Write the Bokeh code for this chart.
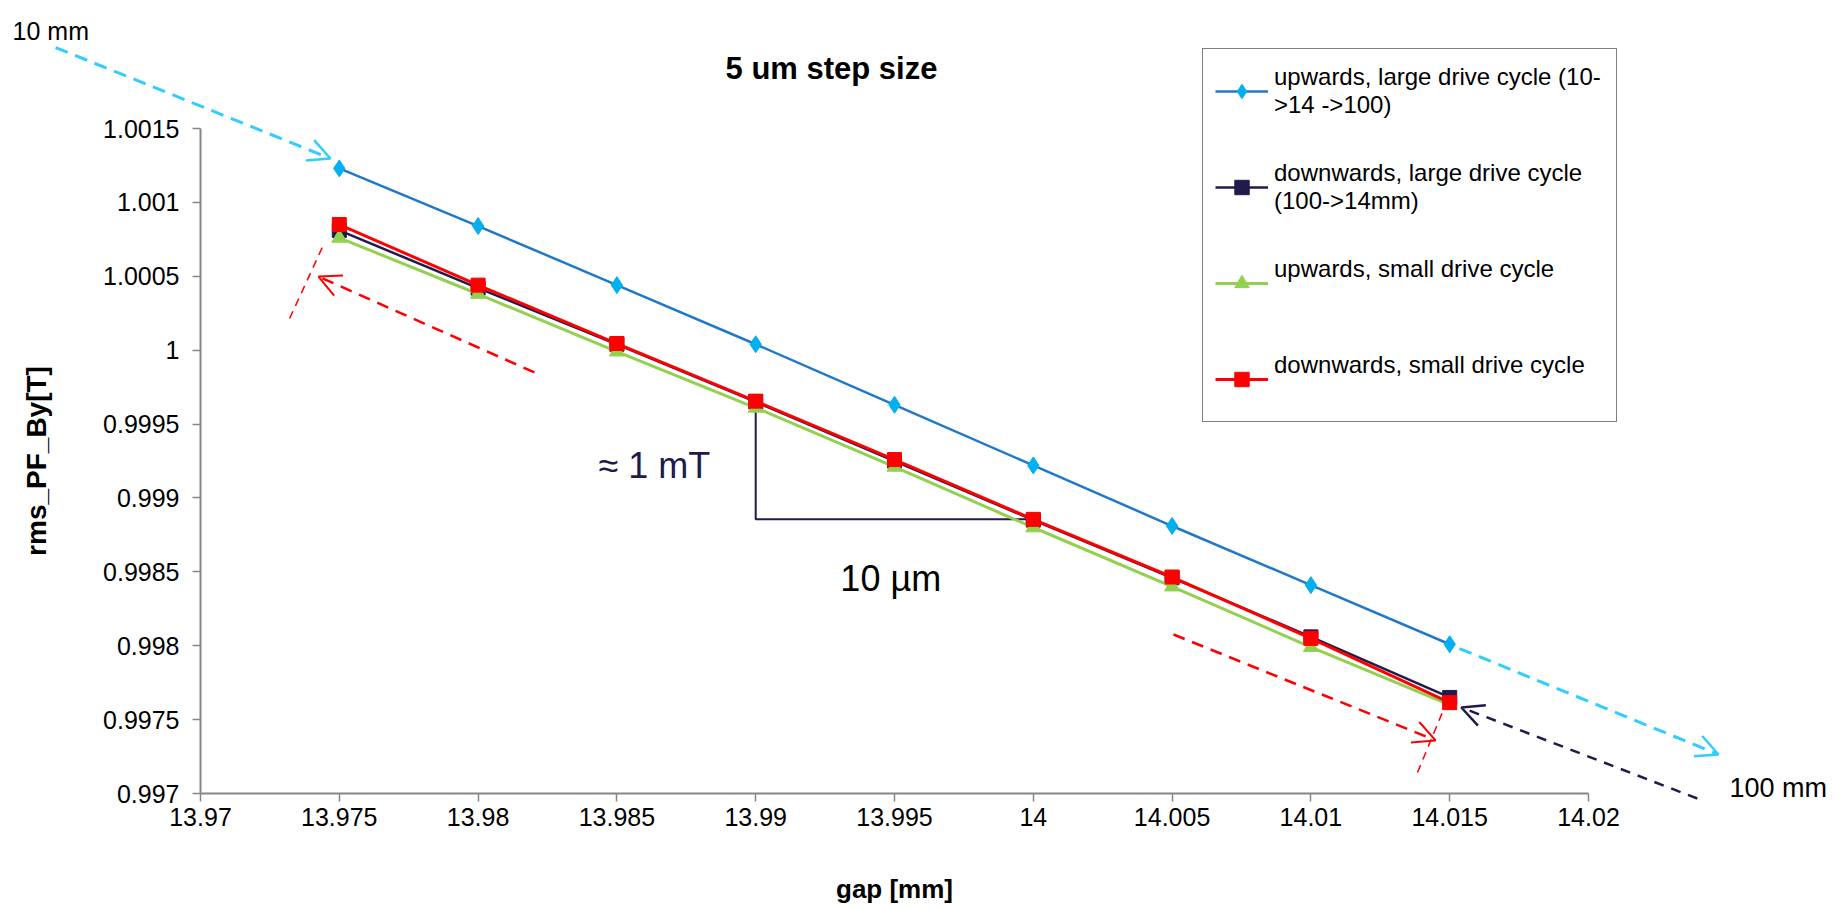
from bokeh.plotting import figure
from bokeh.models import (Range1d, FixedTicker, Legend, LegendItem, Arrow,
                          OpenHead, Label, LinearAxis)
from bokeh.embed import file_html
from bokeh.resources import INLINE

# ---------------- data ----------------
gap = [13.975, 13.98, 13.985, 13.99, 13.995, 14, 14.005, 14.01, 14.015]
up_large = [1.00123, 1.00084, 1.00044, 1.00004, 0.99963, 0.99922, 0.99881, 0.99841, 0.99801]
down_large = [1.00081, 1.00042, 1.00004, 0.99965, 0.99925, 0.99885, 0.99846, 0.99806, 0.99765]
up_small = [1.00076, 1.00038, 0.99999, 0.99961, 0.99921, 0.99880, 0.99840, 0.99799, 0.99760]
down_small = [1.00085, 1.00044, 1.000045, 0.999655, 0.99926, 0.998855, 0.998465, 0.99805, 0.997615]

series_names = [
    "upwards, large drive cycle (10-\n>14 ->100)",
    "downwards, large drive cycle\n(100->14mm)",
    "upwards, small drive cycle\n\u00a0",
    "downwards, small drive cycle\n\u00a0",
]

x_ticks = [13.97, 13.975, 13.98, 13.985, 13.99, 13.995, 14, 14.005, 14.01, 14.015, 14.02]
x_tick_labels = ["13.97", "13.975", "13.98", "13.985", "13.99", "13.995", "14",
                 "14.005", "14.01", "14.015", "14.02"]
y_ticks = [0.997, 0.9975, 0.998, 0.9985, 0.999, 0.9995, 1, 1.0005, 1.001, 1.0015]
y_tick_labels = ["0.997", "0.9975", "0.998", "0.9985", "0.999", "0.9995", "1",
                 "1.0005", "1.001", "1.0015"]

# slope triangle (10 um step / ~1 mT)
tri_x = [13.99, 13.99, 14]
tri_y = [0.99965, 0.998855, 0.998855]

# annotation arrows (x_start, y_start, x_end, y_end) in data units
cyan_arrows = [(13.96478, 1.002048, 13.97468, 1.001297),
               (14.01535, 0.997981, 14.02468, 0.997264)]
red_arrows = [(13.98203, 0.999849, 13.97425, 1.000498),
              (14.00505, 0.998076, 14.01449, 0.997359)]
red_ticks = [(13.97321, 1.000214, 13.97447, 1.000729),
             (14.01384, 0.997142, 14.01481, 0.997582)]
navy_arrows = [(14.02392, 0.996966, 14.01542, 0.997582)]

# ---------------- layout ----------------
W, H = 1840, 909
AX_LEFT, AX_RIGHT, AX_TOP, AX_BOTTOM = 200, 1588, 128, 793
X0, X1 = x_ticks[0], x_ticks[-1]
Y0, Y1 = y_ticks[0], y_ticks[-1]
xpp = (X1 - X0) / (AX_RIGHT - AX_LEFT)
ypp = (Y1 - Y0) / (AX_BOTTOM - AX_TOP)

FONT = "Liberation Sans"
NAVY = "#201a4e"

p = figure(width=W, height=H, output_backend="svg", toolbar_location=None,
           x_range=Range1d(X0 - AX_LEFT * xpp, X0 + (W - AX_LEFT) * xpp),
           y_range=Range1d(Y0 - (H - AX_BOTTOM) * ypp, Y1 + AX_TOP * ypp),
           x_axis_location=None, y_axis_location=None, min_border=0)
p.outline_line_color = None
p.xgrid.visible = False
p.ygrid.visible = False
p.background_fill_color = "white"
p.border_fill_color = "white"

xaxis = LinearAxis(fixed_location=Y0, bounds=(X0, X1),
                   ticker=FixedTicker(ticks=x_ticks),
                   major_label_overrides=dict(zip(x_ticks, x_tick_labels)),
                   axis_label="gap [mm]")
yaxis = LinearAxis(fixed_location=X0, bounds=(Y0, Y1),
                   ticker=FixedTicker(ticks=y_ticks),
                   major_label_overrides=dict(zip(y_ticks, y_tick_labels)),
                   axis_label="rms_PF_By[T]")
for ax in (xaxis, yaxis):
    ax.axis_line_color = "#868686"
    ax.axis_line_width = 2
    ax.major_tick_line_color = "#868686"
    ax.major_tick_line_width = 1.5
    ax.major_tick_in = 0
    ax.major_tick_out = 8
    ax.minor_tick_line_color = None
    ax.major_label_text_font = FONT
    ax.major_label_text_font_size = "25px"
    ax.major_label_text_color = "black"
    ax.axis_label_text_font = FONT
    ax.axis_label_text_font_style = "bold"
    ax.axis_label_text_color = "black"
xaxis.major_label_standoff = 6
yaxis.major_label_standoff = 13
xaxis.axis_label_text_font_size = "26px"
yaxis.axis_label_text_font_size = "28px"
xaxis.axis_label_standoff = 45
yaxis.axis_label_standoff = 48
p.add_layout(xaxis, "below")
p.add_layout(yaxis, "left")

# slope triangle
p.line(tri_x, tri_y, line_color=NAVY, line_width=2)

# series
l1 = p.line(gap, up_large, line_color="#1f78c8", line_width=2.5)
m1 = p.scatter(gap, up_large, marker="diamond", size=17,
               fill_color="#00b0f0", line_color="#00b0f0")
l2 = p.line(gap, down_large, line_color=NAVY, line_width=2.5)
m2 = p.scatter(gap, down_large, marker="square", size=14,
               fill_color=NAVY, line_color=NAVY)
l3 = p.line(gap, up_small, line_color="#92d050", line_width=3)
m3 = p.scatter(gap, up_small, marker="triangle", size=15,
               fill_color="#92d050", line_color="#92d050")
l4 = p.line(gap, down_small, line_color="#ff0000", line_width=3)
m4 = p.scatter(gap, down_small, marker="square", size=14,
               fill_color="#ff0000", line_color="#ff0000")

legend = Legend(items=[
    LegendItem(label=series_names[0], renderers=[l1, m1]),
    LegendItem(label=series_names[1], renderers=[l2, m2]),
    LegendItem(label=series_names[2], renderers=[l3, m3]),
    LegendItem(label=series_names[3], renderers=[l4, m4]),
], location=(1202, H - 422))
legend.label_text_font = FONT
legend.label_text_font_size = "24px"
legend.label_text_color = "black"
legend.glyph_width = 53
legend.glyph_height = 36
legend.label_standoff = 6
legend.padding = 12
legend.spacing = 36
legend.label_height = 60
legend.label_width = 330
legend.margin = 0
legend.border_line_color = "black"
legend.border_line_width = 1.5
legend.background_fill_color = "white"
legend.background_fill_alpha = 1
p.add_layout(legend)

# arrows
for (xs, ys, xe, ye) in cyan_arrows:
    p.add_layout(Arrow(end=OpenHead(size=22, line_color="#33ccff", line_width=2.5),
                       x_start=xs, y_start=ys, x_end=xe, y_end=ye,
                       line_color="#33ccff", line_width=3, line_dash="13 8"))
for (xs, ys, xe, ye) in red_arrows:
    p.add_layout(Arrow(end=OpenHead(size=22, line_color="#ff0000", line_width=2),
                       x_start=xs, y_start=ys, x_end=xe, y_end=ye,
                       line_color="#ff0000", line_width=2.5, line_dash="12 8"))
for (xs, ys, xe, ye) in red_ticks:
    p.add_layout(Arrow(end=None, x_start=xs, y_start=ys, x_end=xe, y_end=ye,
                       line_color="#ff0000", line_width=1.5, line_dash="8 6"))
for (xs, ys, xe, ye) in navy_arrows:
    p.add_layout(Arrow(end=OpenHead(size=22, line_color=NAVY, line_width=2.5),
                       x_start=xs, y_start=ys, x_end=xe, y_end=ye,
                       line_color=NAVY, line_width=2.5, line_dash="10 8"))

# labels
p.add_layout(Label(x=13.99273, y=1.001906, text="5 um step size", text_font=FONT,
                   text_font_size="31px", text_font_style="bold", text_align="center",
                   text_baseline="middle", text_color="black"))
p.add_layout(Label(x=13.96323, y=1.002163, text="10 mm", text_font=FONT,
                   text_font_size="25px", text_baseline="middle", text_color="black"))
p.add_layout(Label(x=14.02508, y=0.997034, text="100 mm", text_font=FONT,
                   text_font_size="27px", text_baseline="middle", text_color="black"))
p.add_layout(Label(x=13.98434, y=0.99922, text="\u2248 1 mT", text_font=FONT,
                   text_font_size="36px", text_baseline="middle", text_color=NAVY))
p.add_layout(Label(x=13.99305, y=0.998455, text="10 \u00b5m", text_font=FONT,
                   text_font_size="36px", text_baseline="middle", text_color="black"))

open("out.html", "w").write(file_html(p, INLINE))
